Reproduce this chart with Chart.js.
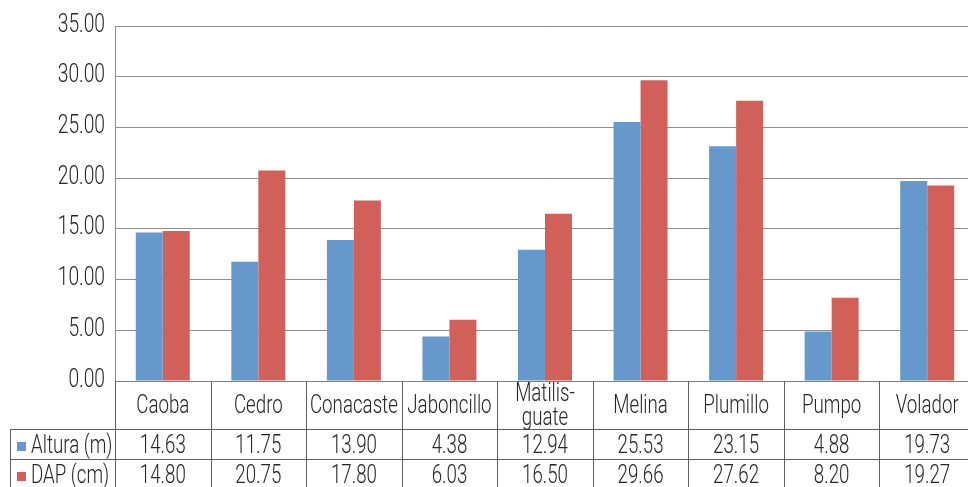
<!DOCTYPE html>
<html>
<head>
<meta charset="utf-8">
<script src="https://cdn.jsdelivr.net/npm/chart.js@4"></script>
<style>
  html, body { margin: 0; padding: 0; background: #fff; overflow: hidden; }
  #wrap { width: 968px; height: 487px; position: relative; overflow: hidden; }
  #c { position: absolute; left: 0; top: 0; }
</style>
</head>
<body>
<div id="wrap"><canvas id="c" width="975" height="487"></canvas></div>
<script>
// Species and measured averages
const species = ['Caoba', 'Cedro', 'Conacaste', 'Jaboncillo', ['Matilis-', 'guate'], 'Melina', 'Plumillo', 'Pumpo', 'Volador'];
const altura = [14.63, 11.75, 13.90, 4.38, 12.94, 25.53, 23.15, 4.88, 19.73];
const dap = [14.80, 20.75, 17.80, 6.03, 16.50, 29.66, 27.62, 8.20, 19.27];
const seriesNames = ['Altura (m)', 'DAP (cm)'];
const yTicks = [0, 5, 10, 15, 20, 25, 30, 35];

const BLUE = '#6798cc';
const RED = '#d2605a';
const FONT = 'Roboto, "DejaVu Sans Condensed", sans-serif';
const TEXT = '#262626';
const SIZE = 26;
const SQUEEZE = 0.72;

// Condensed text: light face squeezed horizontally
function condText(ctx, str, x, y, align, sx) {
  ctx.save();
  ctx.font = '300 ' + SIZE + 'px ' + FONT;
  ctx.fillStyle = TEXT;
  ctx.textBaseline = 'middle';
  ctx.textAlign = align;
  ctx.translate(x, y);
  ctx.scale(sx || SQUEEZE, 1);
  ctx.fillText(str, 0, 0);
  ctx.restore();
}

// Y tick labels drawn condensed at the scale's tick positions
const yLabels = {
  id: 'yLabels',
  afterDraw(chart) {
    const ys = chart.scales.y;
    const ctx = chart.ctx;
    ys.ticks.forEach(t => {
      condText(ctx, Number(t.value).toFixed(2), ys.right - 10, ys.getPixelForValue(t.value) - 1, 'right', 0.74);
    });
  }
};

// Data table under the plot: category row plus one row per series
const dataTable = {
  id: 'dataTable',
  afterDraw(chart) {
    const ctx = chart.ctx;
    const xs = chart.scales.x;
    const area = chart.chartArea;
    const n = species.length;
    const cw = (area.right - area.left) / n;
    const top = area.bottom;
    const row1 = top + 48;
    const row2 = row1 + 30;
    const bottom = chart.height + 2;
    const tableLeft = 10;

    ctx.save();
    ctx.strokeStyle = '#5f5f5f';
    ctx.lineWidth = 1;
    ctx.beginPath();
    for (let i = 0; i <= n; i++) {
      const x = Math.round(area.left + i * cw) + 0.5;
      ctx.moveTo(x, top);
      ctx.lineTo(x, bottom);
    }
    ctx.moveTo(tableLeft + 0.5, row1);
    ctx.lineTo(tableLeft + 0.5, bottom);
    ctx.moveTo(tableLeft, row1 + 0.5);
    ctx.lineTo(area.right, row1 + 0.5);
    ctx.moveTo(tableLeft, row2 + 0.5);
    ctx.lineTo(area.right, row2 + 0.5);
    ctx.stroke();
    ctx.restore();

    species.forEach((s, i) => {
      const cx = xs.getPixelForValue(i);
      const mid = (top + row1) / 2 + 1;
      if (Array.isArray(s)) {
        condText(ctx, s[0], cx, mid - 12, 'center');
        condText(ctx, s[1], cx, mid + 12, 'center');
      } else {
        condText(ctx, s, cx, mid, 'center');
      }
    });

    const rows = [[altura, BLUE, row1], [dap, RED, row2]];
    rows.forEach(([vals, color, y0], r) => {
      const mid = y0 + 17;
      vals.forEach((v, i) => {
        condText(ctx, v.toFixed(2), xs.getPixelForValue(i), mid, 'center');
      });
      ctx.fillStyle = color;
      ctx.fillRect(17, mid - 4, 9, 9);
      condText(ctx, seriesNames[r], 31, mid, 'left');
    });
  }
};

new Chart(document.getElementById('c'), {
  type: 'bar',
  data: {
    labels: species,
    datasets: [
      { label: seriesNames[0], data: altura, backgroundColor: BLUE },
      { label: seriesNames[1], data: dap, backgroundColor: RED }
    ]
  },
  options: {
    responsive: false,
    animation: false,
    devicePixelRatio: 1,
    layout: { padding: { top: 26, right: 0, left: 0, bottom: 0 } },
    plugins: { legend: { display: false }, tooltip: { enabled: false } },
    datasets: { bar: { categoryPercentage: 0.565, barPercentage: 1.0 } },
    scales: {
      x: {
        grid: { display: false, drawTicks: false },
        border: { color: '#7f7f7f' },
        ticks: { display: false },
        afterFit(scale) { scale.height = 106; }
      },
      y: {
        min: 0,
        max: 35,
        afterBuildTicks(scale) { scale.ticks = yTicks.map(v => ({ value: v })); },
        grid: { color: '#8f8f8f', drawTicks: false },
        border: { color: '#8f8f8f' },
        ticks: { display: false },
        afterFit(scale) { scale.width = 115; }
      }
    }
  },
  plugins: [dataTable, yLabels]
});
</script>
</body>
</html>
